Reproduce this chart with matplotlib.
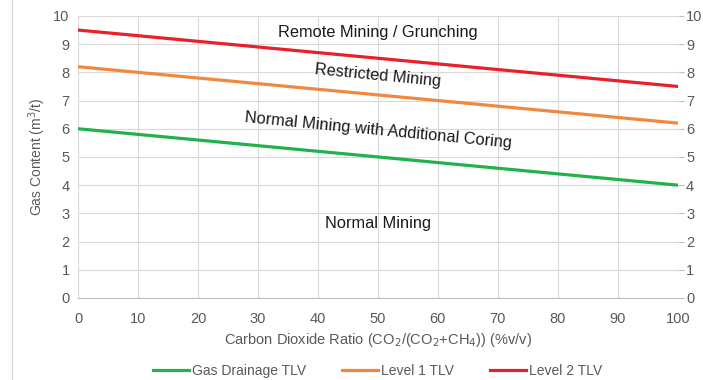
import matplotlib
matplotlib.use("Agg")
import matplotlib.pyplot as plt
from matplotlib.lines import Line2D

plt.rcParams['font.family'] = ['Liberation Sans', 'DejaVu Sans']

# data
co2_ratio = [0, 100]
gas_drainage_tlv = [6.0, 4.0]
level1_tlv = [8.2, 6.2]
level2_tlv = [9.5, 7.5]

zones = ["Remote Mining / Grunching", "Restricted Mining",
         "Normal Mining with Additional Coring", "Normal Mining"]
zone_x = [50, 50, 50, 50]
zone_y = [9.4, 7.9, 5.95, 2.65]
zone_rot = [0, -5.5, -5.5, 0]

grey = '#595959'
fig = plt.figure(figsize=(7.03, 3.8), dpi=100)
ax = fig.add_axes([0.111, 0.216, 0.853, 0.742])

ax.plot(co2_ratio, gas_drainage_tlv, color='#22b14c', lw=2.3, label='Gas Drainage TLV')
ax.plot(co2_ratio, level1_tlv, color='#f0883e', lw=2.3, label='Level 1 TLV')
ax.plot(co2_ratio, level2_tlv, color='#e8202a', lw=2.3, label='Level 2 TLV')

for t, x, y, r in zip(zones, zone_x, zone_y, zone_rot):
    ax.text(x, y, t, ha='center', va='center', rotation=r, fontsize=11.8,
            color='#1a1a1a', rotation_mode='anchor')

ax.set_xlim(0, 100)
ax.set_ylim(0, 10)
ax.set_xticks(range(0, 101, 10))
ax.set_yticks(range(0, 11))
ax.grid(True, color='#d9d9d9', lw=0.8)
ax.set_axisbelow(True)
for s in ax.spines.values():
    s.set_visible(False)
ax.spines['bottom'].set_visible(True)
ax.spines['bottom'].set_color('#bfbfbf')
ax.tick_params(axis='x', length=0, colors=grey, labelsize=10.5, pad=10)
ax.tick_params(axis='y', length=0, colors=grey, labelsize=10.5, pad=6)
ax.set_xlabel('Carbon Dioxide Ratio (CO$_2$/(CO$_2$+CH$_4$)) (%v/v)', color=grey, fontsize=10.5, labelpad=4)
ax.set_ylabel('Gas Content (m$^3$/t)', color=grey, fontsize=10, labelpad=4)

ax2 = ax.twinx()
ax2.set_ylim(0, 10)
ax2.set_yticks(range(0, 11))
for s in ax2.spines.values():
    s.set_visible(False)
ax2.tick_params(length=4, width=0.8, color='#bfbfbf', colors=grey, labelsize=10.5, pad=2)
for tk in ax2.yaxis.get_major_ticks():
    tk.tick2line.set_color('#bfbfbf')

ax.legend(loc='upper center', bbox_to_anchor=(0.5, -0.19), ncol=3, frameon=False,
          fontsize=10, labelcolor=grey, handlelength=2.6, handletextpad=0.2, columnspacing=2.6)

fig.add_artist(Line2D([0.017, 0.017], [0, 1], color='#d9d9d9', lw=1, transform=fig.transFigure))

fig.savefig('out.png', dpi=100)
